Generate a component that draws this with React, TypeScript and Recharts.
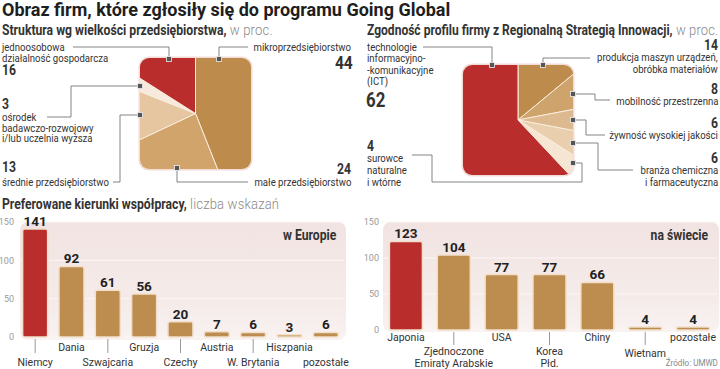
import React from "react";
import {
  BarChart, Bar, XAxis, YAxis, CartesianGrid, LabelList,
  PieChart, Pie, Cell,
} from "recharts";

// firm size structure, %
const sizeNames = ["mikroprzedsiębiorstwo", "małe przedsiębiorstwo", "średnie przedsiębiorstwo", "ośrodek badawczo-rozwojowy i/lub uczelnia wyższa", "jednoosobowa działalność gospodarcza"];
const sizeValues = [44, 24, 13, 3, 16];
const sizeColors = ["#bd8c4c", "#d1a46c", "#e5c6a1", "#f7eadc", "#b92d2d"];

// profile vs regional innovation strategy, %
const profileNames = ["produkcja maszyn urządzeń, obróbka materiałów", "mobilność przestrzenna", "żywność wysokiej jakości", "branża chemiczna i farmaceutyczna", "surowce naturalne i wtórne", "technologie informacyjno-komunikacyjne (ICT)"];
const profileValues = [14, 8, 6, 6, 4, 62];
const profileColors = ["#bd8c4c", "#cfa36c", "#dcb98f", "#e9cfae", "#f5e5d2", "#b92d2d"];

// preferred directions, number of answers
const europeNames = ["Niemcy", "Dania", "Szwajcaria", "Gruzja", "Czechy", "Austria", "W. Brytania", "Hiszpania", "pozostałe"];
const europeValues = [141, 92, 61, 56, 20, 7, 6, 3, 6];
const worldNames = ["Japonia", "Zjednoczone|Emiraty Arabskie", "USA", "Korea|Płd.", "Chiny", "Wietnam", "pozostałe"];
const worldValues = [123, 104, 77, 77, 66, 4, 4];
const yTicks = [0, 50, 100, 150];

const FONT = "'Roboto', sans-serif";
const RED = "#b92d2d";
const TAN = "#bd8d4f";

// absolutely placed text, y = vertical centre, squeezed to look condensed
function T({ x, y, size = 11, bold = false, right = false, color = "#333", sx = 0.87, children }: any) {
  const style: React.CSSProperties = {
    position: "absolute", top: y - size * 0.5, lineHeight: `${size}px`, fontSize: size,
    fontWeight: bold ? 700 : 400, color, whiteSpace: "nowrap", fontFamily: FONT,
    transform: `scaleX(${sx})`, transformOrigin: right ? "right center" : "left center",
  };
  if (right) style.right = 720 - x; else style.left = x;
  return <div style={style}>{children}</div>;
}

const Unit = ({ children }: any) => <span style={{ fontWeight: 300, color: "#8a8a8a", fontSize: 15, letterSpacing: 0.2 }}>{children}</span>;

function SquarePie({ left, top, size, names, values, colors }: any) {
  const data = names.map((n: string, i: number) => ({ name: n, value: values[i] }));
  return (
    <div style={{ position: "absolute", left, top, width: size, height: size, borderRadius: 9, overflow: "hidden", boxShadow: "0 0 0 1.5px #f2dcd5" }}>
      <PieChart width={size} height={size} margin={{ top: 0, right: 0, bottom: 0, left: 0 }}>
        <Pie data={data} dataKey="value" cx="50%" cy="50%" outerRadius={size} innerRadius={0}
          startAngle={90} endAngle={-270} stroke="#f8ecdc" strokeWidth={1} isAnimationActive={false}>
          {data.map((_: any, i: number) => <Cell key={i} fill={colors[i]} />)}
        </Pie>
      </PieChart>
    </div>
  );
}

const Mark = ({ x, y }: any) => <rect x={x - 2.5} y={y - 2.5} width={5} height={5} fill="#555" stroke="#eee" strokeWidth={0.8} />;

function Connectors() {
  const ln = { fill: "none", stroke: "#777", strokeWidth: 0.9 };
  return (
    <svg width={720} height={369} style={{ position: "absolute", left: 0, top: 0, pointerEvents: "none" }}>
      <polyline points="73,47 169,47 169,59" {...ln} />
      <polyline points="219,59 219,47 248,47" {...ln} />
      <polyline points="47,117 71,117 71,86 140,86" {...ln} />
      <polyline points="113,182 120,182 120,115 140,115" {...ln} />
      <polyline points="177,168 177,182 248,182" {...ln} />
      <Mark x={169} y={59} /><Mark x={219} y={59} /><Mark x={140} y={86} /><Mark x={140} y={115} /><Mark x={177} y={168} />

      <polyline points="423,47 492,47 492,65" {...ln} />
      <polyline points="543,65 543,58 590,58" {...ln} />
      <polyline points="573,94 595,94 595,100 610,100" {...ln} />
      <polyline points="573,120 586,120 586,135 605,135" {...ln} />
      <polyline points="573,143 598,143 598,170 633,170" {...ln} />
      <polyline points="573,163 582,163 582,182 432,182 432,155 412,155" {...ln} />
      <Mark x={492} y={65} /><Mark x={543} y={65} /><Mark x={573} y={94} /><Mark x={573} y={120} /><Mark x={573} y={143} /><Mark x={573} y={163} />
    </svg>
  );
}

function makeTick(rows: "eu" | "world") {
  return ({ x, y, payload, index }: any) => {
    const low = rows === "eu" ? index % 2 === 0 : index % 2 === 1;
    const lines = String(payload.value).split("|");
    const props = { textAnchor: "middle" as const, fontSize: 10.5, fill: "#333", fontFamily: FONT };
    if (rows === "eu") {
      return (
        <g>
          {low && index < 8 && <line x1={x} x2={x} y1={y + 2} y2={y + 16} stroke="#999" />}
          <text x={x} y={low ? y + 29 : y + 14} {...props}>{lines[0]}</text>
        </g>
      );
    }
    return (
      <g>
        {low && <line x1={x} x2={x} y1={y + 2} y2={y + 15} stroke="#999" />}
        {low
          ? lines.map((l, i) => <text key={i} x={x} y={y + (lines.length > 1 ? 25 + i * 12 : 27)} {...props}>{l}</text>)
          : <text x={x} y={y + 11} {...props}>{lines[0]}</text>}
      </g>
    );
  };
}

function Bars({ names, values, width, height, margin, yWidth, rows }: any) {
  const data = names.map((n: string, i: number) => ({ name: n, value: values[i] }));
  return (
    <BarChart width={width} height={height} data={data} margin={margin} barCategoryGap="15.5%">
      <CartesianGrid horizontal vertical={false} stroke="#fbf6f5" strokeWidth={1} />
      <XAxis dataKey="name" height={30} axisLine={false} tickLine={false} tickSize={0} tickMargin={0} interval={0} tick={makeTick(rows)} />
      <YAxis domain={[0, 150]} ticks={yTicks} width={yWidth} axisLine={false} tickLine={false} tickSize={0} tickMargin={3}
        tick={{ fontSize: 9, fill: "#9a9a9a", fontFamily: FONT }} />
      <Bar dataKey="value" isAnimationActive={false} radius={2} stroke="#f1dfcb" strokeWidth={1.5}>
        {data.map((_: any, i: number) => <Cell key={i} fill={i === 0 ? RED : TAN} />)}
        <LabelList dataKey="value" position="top" offset={3} style={{ fontSize: 13.5, fontWeight: 700, fill: "#222", fontFamily: FONT }} />
      </Bar>
    </BarChart>
  );
}

export default function App() {
  const panelBg = "linear-gradient(to bottom, #f1e3e1 0%, #f5ecea 70%, #f8f2f0 100%)";
  return (
    <div style={{ position: "absolute", left: 0, top: 0, width: 720, height: 369, background: "#fff", overflow: "hidden", fontFamily: FONT, color: "#222" }}>
      <T x={2} y={10} size={18} bold color="#1e1e1e" sx={1}>Obraz firm, które zgłosiły się do programu Going Global</T>

      <T x={2} y={30} size={14} bold>Struktura wg wielkości przedsiębiorstwa,<Unit> w proc.</Unit></T>
      <T x={367} y={30} size={14} bold sx={0.86}>Zgodność profilu firmy z Regionalną Strategią Innowacji,<Unit> w proc.</Unit></T>

      <SquarePie left={140} top={58} size={111} names={sizeNames} values={sizeValues} colors={sizeColors} />
      <SquarePie left={463} top={65} size={110} names={profileNames} values={profileValues} colors={profileColors} />
      <Connectors />

      <T x={2} y={47}>jednoosobowa</T>
      <T x={2} y={58}>działalność gospodarcza</T>
      <T x={2} y={70} size={14} bold>{sizeValues[4]}</T>
      <T x={2} y={104} size={14} bold>{sizeValues[3]}</T>
      <T x={2} y={117}>ośrodek</T>
      <T x={2} y={128}>badawczo-rozwojowy</T>
      <T x={2} y={138}>i/lub uczelnia wyższa</T>
      <T x={2} y={167} size={14} bold>{sizeValues[2]}</T>
      <T x={2} y={182}>średnie przedsiębiorstwo</T>
      <T x={351} y={47} right>mikroprzedsiębiorstwo</T>
      <T x={353} y={62} size={19} bold right sx={0.82}>{sizeValues[0]}</T>
      <T x={351} y={169} size={14} bold right>{sizeValues[1]}</T>
      <T x={351} y={182} right>małe przedsiębiorstwo</T>

      <T x={367} y={47}>technologie</T>
      <T x={367} y={58}>informacyjno-</T>
      <T x={367} y={70}>-komunikacyjne</T>
      <T x={367} y={81}>(ICT)</T>
      <T x={366} y={100} size={21} bold sx={0.8}>{profileValues[5]}</T>
      <T x={367} y={146} size={14} bold>{profileValues[4]}</T>
      <T x={367} y={158}>surowce</T>
      <T x={367} y={170}>naturalne</T>
      <T x={367} y={182}>i wtórne</T>
      <T x={718} y={45} size={14} bold right>{profileValues[0]}</T>
      <T x={718} y={57} right>produkcja maszyn urządzeń,</T>
      <T x={718} y={69} right>obróbka materiałów</T>
      <T x={718} y={89} size={14} bold right>{profileValues[1]}</T>
      <T x={718} y={101} right>mobilność przestrzenna</T>
      <T x={718} y={123} size={14} bold right>{profileValues[2]}</T>
      <T x={718} y={135} right>żywność wysokiej jakości</T>
      <T x={718} y={158} size={14} bold right>{profileValues[3]}</T>
      <T x={718} y={170} right>branża chemiczna</T>
      <T x={718} y={182} right>i farmaceutyczna</T>

      <T x={2} y={204} size={14} bold>Preferowane kierunki współpracy,<Unit> liczba wskazań</Unit></T>

      <div style={{ position: "absolute", left: 20, top: 222, width: 326, height: 118, borderRadius: 8, background: panelBg }} />
      <div style={{ position: "absolute", left: 383, top: 222, width: 336, height: 110, borderRadius: 8, background: panelBg }} />

      <div style={{ position: "absolute", left: 0, top: 190 }}>
        <Bars names={europeNames} values={europeValues} width={350} height={179} margin={{ top: 32, right: 6, bottom: 2, left: 0 }} yWidth={17} rows="eu" />
      </div>
      <div style={{ position: "absolute", left: 360, top: 190 }}>
        <Bars names={worldNames} values={worldValues} width={360} height={179} margin={{ top: 32, right: 3, bottom: 9, left: 0 }} yWidth={22} rows="world" />
      </div>

      <T x={336} y={235} size={14} bold right>w Europie</T>
      <T x={708} y={235} size={14} bold right>na świecie</T>
      <T x={718} y={363} size={8.5} right color="#888" sx={0.95}>Źródło: UMWD</T>
    </div>
  );
}
